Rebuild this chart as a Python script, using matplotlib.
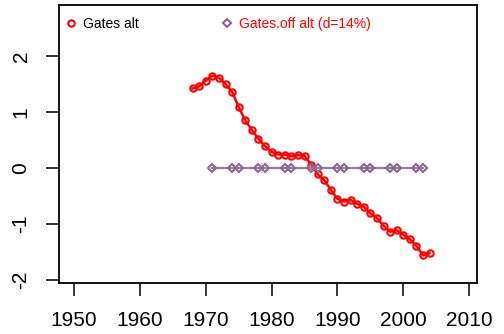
import matplotlib
matplotlib.use("Agg")
import matplotlib.pyplot as plt

plt.rcParams['font.family'] = ['Liberation Sans', 'DejaVu Sans']

# Gates alt series (standardised), one value per year
gates_years = list(range(1968, 2005))
gates_vals = [1.42, 1.46, 1.56, 1.65, 1.61, 1.50, 1.36, 1.09, 0.85, 0.68,
              0.52, 0.39, 0.29, 0.24, 0.24, 0.21, 0.23, 0.22, 0.06, -0.11,
              -0.22, -0.39, -0.55, -0.60, -0.57, -0.64, -0.69, -0.81, -0.89, -1.03,
              -1.14, -1.11, -1.19, -1.27, -1.39, -1.56, -1.52]

# Gates.off alt (d=14%) series
off_years = [1971, 1974, 1975, 1978, 1979, 1982, 1983, 1986, 1987, 1990,
             1991, 1994, 1995, 1998, 1999, 2002, 2003]
off_vals = [0.0] * len(off_years)

x_ticks = [1950, 1960, 1970, 1980, 1990, 2000, 2010]
y_ticks = [-2, -1, 0, 1, 2]

fig = plt.figure(figsize=(5.04, 3.34), dpi=100)
ax = fig.add_axes([59 / 504, 1 - 283 / 334, 418 / 504, 278 / 334])

ax.plot(gates_years, gates_vals, color='red', lw=1.8, marker='o', ms=4.6,
        mfc='none', mec='red', mew=1.5, label='Gates alt')
ax.plot(off_years, off_vals, color='#9a7aa0', lw=1.6, marker='D', ms=4.0,
        mfc='none', mec='#8a6890', mew=1.5, label='Gates.off alt (d=14%)')

ax.set_xlim(1947.7, 2011.2)
ax.set_ylim(-2.054, 2.911)
ax.set_xticks(x_ticks)
ax.set_yticks(y_ticks)
ax.set_yticklabels([str(v) for v in y_ticks], rotation=90, va='center')

for side in ax.spines.values():
    side.set_linewidth(1.3)
ax.tick_params(direction='out', length=9.5, width=1.1, labelsize=15,
               top=False, right=False)
ax.tick_params(axis='x', pad=11)
ax.tick_params(axis='y', pad=11)

leg = ax.legend(loc='upper left', bbox_to_anchor=(-0.003, 0.986), ncol=2,
                frameon=False, fontsize=10, handlelength=0.8,
                handletextpad=0.5, columnspacing=5.9, borderaxespad=0,
                borderpad=0.55)
for h in leg.legend_handles:
    h.set_linestyle('none')
leg.get_texts()[1].set_color('red')

fig.savefig('out.png', dpi=100)
